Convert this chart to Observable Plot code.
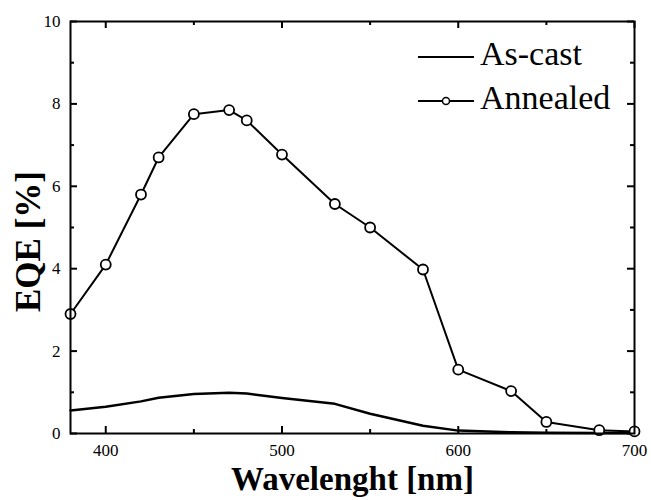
<!DOCTYPE html>
<html>
<head>
<meta charset="utf-8">
<script src="https://cdn.jsdelivr.net/npm/d3@7"></script>
<script src="https://cdn.jsdelivr.net/npm/@observablehq/plot@0.6"></script>
<style>
  html, body { margin: 0; padding: 0; background: #fff; }
  #chart svg { display: block; }
  #chart svg, #chart svg text { font-family: "Liberation Serif", "Times New Roman", "DejaVu Serif", serif !important; }
</style>
</head>
<body>
<div id="chart"></div>
<script>
// Wavelength grid (nm) shared by both curves
const wavelengths = [380, 400, 420, 430, 450, 470, 480, 500, 530, 550, 580, 600, 630, 650, 680, 700];
// External quantum efficiency (%)
const asCast   = [0.56, 0.65, 0.78, 0.87, 0.96, 0.99, 0.97, 0.86, 0.72, 0.48, 0.19, 0.07, 0.03, 0.02, 0.01, 0.01];
const annealed = [2.9, 4.1, 5.8, 6.7, 7.75, 7.85, 7.6, 6.77, 5.57, 5.0, 3.98, 1.55, 1.03, 0.28, 0.08, 0.05];

// Axis ticks
const xMajor = [400, 500, 600, 700];
const xMinor = [450, 550, 650];
const yMajor = [0, 2, 4, 6, 8, 10];
const yMinor = [1, 3, 5, 7, 9];

const seriesNames = ["As-cast", "Annealed"];

const W = 651, H = 500;
const mL = 70, mR = 17, mT = 21, mB = 67;
const innerW = W - mL - mR, innerH = H - mT - mB;
const major = 7, minor = 4;

const rows = (ys) => wavelengths.map((x, i) => ({x, y: ys[i]}));
const castRows = rows(asCast);
const annRows = rows(annealed);

// Inward ticks on all four sides of the frame
const ticksBottom = (v, len) => Plot.tickX(v, {x: d => d, insetTop: innerH - len, strokeWidth: 2});
const ticksTop    = (v, len) => Plot.tickX(v, {x: d => d, insetBottom: innerH - len, strokeWidth: 2});
const ticksLeft   = (v, len) => Plot.tickY(v, {y: d => d, insetRight: innerW - len, strokeWidth: 2});
const ticksRight  = (v, len) => Plot.tickY(v, {y: d => d, insetLeft: innerW - len, strokeWidth: 2});

const svg = Plot.plot({
  width: W,
  height: H,
  marginLeft: mL,
  marginRight: mR,
  marginTop: mT,
  marginBottom: mB,
  style: {color: "#000", background: "#fff"},
  x: {domain: [380, 700], label: null},
  y: {domain: [0, 10], label: null},
  marks: [
    Plot.axisX({ticks: xMajor, tickSize: 0, tickPadding: 10, fontSize: 17, label: null}),
    Plot.axisY({ticks: yMajor, tickSize: 0, tickPadding: 10, fontSize: 17, label: null}),
    ticksBottom(xMajor, major), ticksBottom(xMinor, minor),
    ticksTop(xMajor, major), ticksTop(xMinor, minor),
    ticksLeft(yMajor, major), ticksLeft(yMinor, minor),
    ticksRight(yMajor, major), ticksRight(yMinor, minor),
    Plot.line(castRows, {x: "x", y: "y", stroke: "#000", strokeWidth: 2.5}),
    Plot.line(annRows, {x: "x", y: "y", stroke: "#000", strokeWidth: 2}),
    Plot.dot(annRows, {x: "x", y: "y", r: 5, fill: "#fff", stroke: "#000", strokeWidth: 1.8}),
    Plot.frame({stroke: "#000", strokeWidth: 2}),
    Plot.text(["Wavelenght [nm]"], {
      frameAnchor: "bottom", textAnchor: "middle", lineAnchor: "middle",
      dy: 46, fontSize: 33, fontWeight: "bold", fill: "#000"
    }),
    Plot.text(["EQE [%]"], {
      frameAnchor: "left", textAnchor: "middle", lineAnchor: "middle", rotate: -90,
      dx: -42, dy: 14, fontSize: 35, fontWeight: "bold", fill: "#000"
    })
  ]
});

// Legend in the upper right corner of the frame
const legend = d3.select(svg).append("g").attr("font-size", 34).attr("text-anchor", "start");
const items = [
  {name: seriesNames[0], y: 57, marker: false},
  {name: seriesNames[1], y: 101, marker: true}
];
for (const it of items) {
  legend.append("line")
    .attr("x1", 418).attr("x2", 474).attr("y1", it.y).attr("y2", it.y)
    .attr("stroke", "#000").attr("stroke-width", 2);
  if (it.marker) {
    legend.append("circle")
      .attr("cx", 446).attr("cy", it.y).attr("r", 3.5)
      .attr("fill", "#fff").attr("stroke", "#000").attr("stroke-width", 1.5);
  }
  legend.append("text")
    .attr("x", 480).attr("y", it.y + 8)
    .attr("fill", "#000")
    .attr("text-anchor", "start")
    .text(it.name);
}

document.getElementById("chart").appendChild(svg);
</script>
</body>
</html>
